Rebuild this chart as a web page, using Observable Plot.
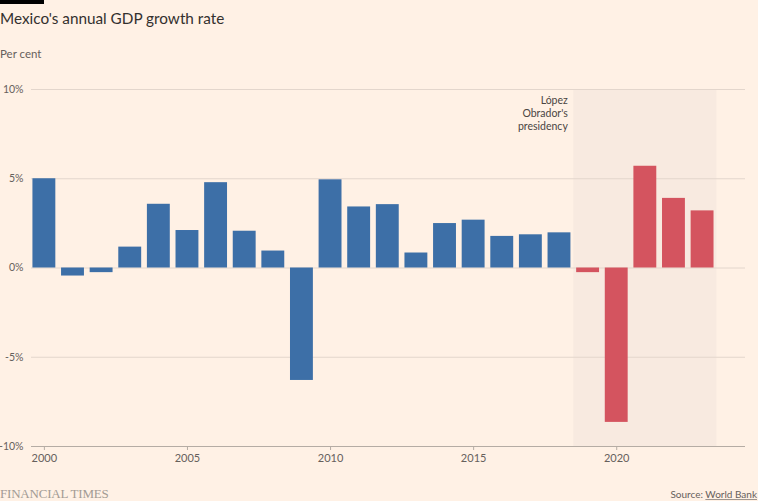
<!DOCTYPE html>
<html>
<head>
<meta charset="utf-8">
<script src="https://cdn.jsdelivr.net/npm/d3@7"></script>
<script src="https://cdn.jsdelivr.net/npm/@observablehq/plot@0.6"></script>
<style>
  html, body { margin: 0; padding: 0; background: #fff1e5; }
  body { width: 758px; height: 501px; position: relative; overflow: hidden; font-family: Lato, "Noto Sans", sans-serif; }
  #bar { position: absolute; left: 0; top: 0; width: 44px; height: 4px; background: #000; }
  #title { position: absolute; left: 0; top: 8px; font-size: 15.3px; line-height: 21px; color: #33302e; }
  #sub { position: absolute; left: 0; top: 46px; font-size: 11.5px; line-height: 16px; color: #66605c; }
  #chart { position: absolute; left: 0; top: 70px; }
  #ft { position: absolute; left: 0; top: 486px; font-family: "Liberation Serif", serif; font-size: 13px; line-height: 15px; color: #a39b94; letter-spacing: -0.2px; }
  #src { position: absolute; right: 1px; top: 488px; font-size: 10px; line-height: 13px; color: #66605c; }
  #src u { text-decoration: underline; text-decoration-color: #9e958e; }
</style>
</head>
<body>
<div id="bar"></div>
<div id="title">Mexico's annual GDP growth rate</div>
<div id="sub">Per cent</div>
<div id="chart"></div>
<div id="ft">FINANCIAL TIMES</div>
<div id="src">Source: <u>World Bank</u></div>
<script>
const years = [2000, 2001, 2002, 2003, 2004, 2005, 2006, 2007, 2008, 2009, 2010, 2011,
               2012, 2013, 2014, 2015, 2016, 2017, 2018, 2019, 2020, 2021, 2022, 2023];
const growth = [5.0, -0.45, -0.26, 1.17, 3.57, 2.1, 4.78, 2.06, 0.95, -6.3, 4.94, 3.42,
                3.55, 0.84, 2.49, 2.68, 1.77, 1.86, 1.97, -0.26, -8.65, 5.7, 3.9, 3.2];
const presidencyStart = 2019;
const presidencyEnd = 2023;
const presidencyLabel = "López\nObrador's\npresidency";
const yTicks = [-10, -5, 0, 5, 10];
const xTicks = [2000, 2005, 2010, 2015, 2020];

const data = years.map((year, i) => ({year, value: growth[i], amlo: year >= presidencyStart}));

const chart = Plot.plot({
  width: 758,
  height: 408,
  marginTop: 19,
  marginBottom: 32,
  marginLeft: 31,
  marginRight: 13,
  style: {background: "transparent", fontFamily: "Lato, 'Noto Sans', sans-serif", fontSize: "10.5px", color: "#66605c"},
  x: {domain: [1999.55, 2024.5], ticks: xTicks, tickFormat: d => String(d), tickSize: 4, tickPadding: 4, label: null},
  y: {domain: [-10, 10], ticks: yTicks, tickFormat: d => d + "%", tickSize: 0, tickPadding: 9, label: null},
  marks: [
    Plot.rect([{x1: presidencyStart - 0.5, x2: presidencyEnd + 0.5}], {x1: "x1", x2: "x2", y1: -10, y2: 10, fill: "#f8eae0"}),
    Plot.gridY(yTicks.filter(t => t !== -10), {stroke: "#e3d6cc", strokeOpacity: 1}),
    Plot.ruleY([-10], {stroke: "#b5aca4"}),
    Plot.rectY(data, {
      x1: d => d.year - 0.4,
      x2: d => d.year + 0.4,
      y1: 0,
      y2: "value",
      fill: d => d.amlo ? "#d4545f" : "#3d6fa7"
    }),
    Plot.axisX({ticks: xTicks, tickFormat: d => String(d), tickSize: 4, tickPadding: 4, stroke: "#b5aca4", fill: "#66605c", fontSize: 11}),
    Plot.axisY({ticks: yTicks, tickFormat: d => d + "%", tickSize: 0, tickPadding: 8, fill: "#66605c", fontSize: 10.5}),
    Plot.text([presidencyLabel], {
      x: presidencyStart - 0.5, y: 10, text: d => d,
      textAnchor: "end", lineAnchor: "top", dx: -6, dy: 5,
      lineHeight: 1.25, fontSize: 10.5, fill: "#4a4542"
    })
  ]
});
document.getElementById("chart").appendChild(chart);
</script>
</body>
</html>
